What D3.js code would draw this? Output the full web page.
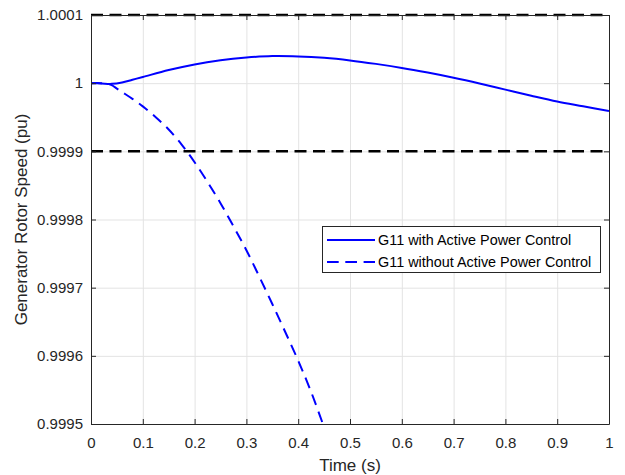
<!DOCTYPE html>
<html>
<head>
<meta charset="utf-8">
<script src="https://cdn.jsdelivr.net/npm/d3@7"></script>
<style>
  html, body { margin: 0; padding: 0; background: #fff; }
  svg { display: block; font-family: "Liberation Sans", Arial, Helvetica, sans-serif; }
</style>
</head>
<body>
<svg id="chart" width="625" height="475"></svg>
<script>
// Time samples (s) and rotor speed (pu) for generator G11
const timeWith = [0, 0.02, 0.04, 0.06, 0.08, 0.1, 0.15, 0.2, 0.25, 0.3, 0.35, 0.4, 0.45, 0.5,
                  0.55, 0.6, 0.65, 0.7, 0.75, 0.8, 0.85, 0.9, 0.95, 1.0];
const speedWith = [1.0000000, 0.9999995, 0.9999990, 1.0000010, 1.0000050, 1.0000090, 1.0000192,
                   1.0000275, 1.0000335, 1.0000375, 1.0000398, 1.0000393, 1.0000372, 1.0000334,
                   1.0000283, 1.0000224, 1.0000155, 1.0000079, 0.9999995, 0.9999905, 0.9999815,
                   0.9999730, 0.9999660, 0.9999590];

const timeWithout = [0, 0.02, 0.03, 0.04, 0.05, 0.06, 0.08, 0.1, 0.125, 0.15, 0.175, 0.2, 0.225,
                     0.25, 0.275, 0.3, 0.325, 0.35, 0.375, 0.4, 0.425, 0.45];
const speedWithout = [1.0000000, 1.0000000, 0.9999995, 0.9999970, 0.9999920, 0.9999870, 0.9999770,
                      0.9999660, 0.9999500, 0.9999320, 0.9999100, 0.9998840, 0.9998550, 0.9998240,
                      0.9997900, 0.9997550, 0.9997160, 0.9996760, 0.9996350, 0.9995930, 0.9995470,
                      0.9994950];

// Speed limit band
const limitLevels = [1.0001, 0.9999];

// Axis ticks and labels
const xTicks = [0, 0.1, 0.2, 0.3, 0.4, 0.5, 0.6, 0.7, 0.8, 0.9, 1];
const xTickLabels = ["0", "0.1", "0.2", "0.3", "0.4", "0.5", "0.6", "0.7", "0.8", "0.9", "1"];
const yTicks = [0.9995, 0.9996, 0.9997, 0.9998, 0.9999, 1.0, 1.0001];
const yTickLabels = ["0.9995", "0.9996", "0.9997", "0.9998", "0.9999", "1", "1.0001"];

const seriesNames = ["G11 with Active Power Control", "G11 without Active Power Control"];

const svg = d3.select("#chart");
const plotLeft = 91, plotRight = 609, plotTop = 15, plotBottom = 424;
const W = plotRight - plotLeft, H = plotBottom - plotTop;

const x = d3.scaleLinear().domain([0, 1]).range([0, W]);
const y = d3.scaleLinear().domain([0.9995, 1.0001]).range([H, 0]);

const axisColor = "#262626";
const g = svg.append("g").attr("transform", `translate(${plotLeft},${plotTop})`);

// Grid
const gridX = g.append("g").attr("transform", `translate(0,${H})`)
  .call(d3.axisBottom(x).tickValues(xTicks).tickSize(-H).tickFormat(""));
const gridY = g.append("g")
  .call(d3.axisLeft(y).tickValues(yTicks).tickSize(-W).tickFormat(""));
[gridX, gridY].forEach(s => {
  s.select(".domain").remove();
  s.selectAll(".tick line").attr("stroke", "#e3e3e3").attr("stroke-width", 1);
});

// Clip to the plotting area
svg.append("defs").append("clipPath").attr("id", "plotClip")
  .append("rect").attr("x", 0).attr("y", -2).attr("width", W).attr("height", H + 2);

const plot = g.append("g").attr("clip-path", "url(#plotClip)");

// Limit lines
plot.selectAll(".limit").data(limitLevels).join("line")
  .attr("class", "limit")
  .attr("x1", 0).attr("x2", W)
  .attr("y1", d => y(d)).attr("y2", d => y(d))
  .attr("stroke", "#000").attr("stroke-width", 2.5)
  .attr("stroke-dasharray", "12,6.5");

const line = d3.line().x(d => x(d[0])).y(d => y(d[1])).curve(d3.curveCatmullRom.alpha(0.5));

plot.append("path")
  .datum(timeWith.map((t, i) => [t, speedWith[i]]))
  .attr("d", line).attr("fill", "none")
  .attr("stroke", "#0000ff").attr("stroke-width", 2);

plot.append("path")
  .datum(timeWithout.map((t, i) => [t, speedWithout[i]]))
  .attr("d", line).attr("fill", "none")
  .attr("stroke", "#0000ff").attr("stroke-width", 2)
  .attr("stroke-dasharray", "11,7");

// Axes (inward ticks on all four sides)
const tickLen = 5;
const xAxis = g.append("g").attr("transform", `translate(0,${H})`)
  .call(d3.axisBottom(x).tickValues(xTicks).tickSizeInner(-tickLen).tickSizeOuter(0)
    .tickPadding(13.3).tickFormat((d, i) => xTickLabels[i]));
const yAxis = g.append("g")
  .call(d3.axisLeft(y).tickValues(yTicks).tickSizeInner(-tickLen).tickSizeOuter(0)
    .tickPadding(8).tickFormat((d, i) => yTickLabels[i]));
const xTop = g.append("g")
  .call(d3.axisTop(x).tickValues(xTicks).tickSizeInner(-tickLen).tickSizeOuter(0).tickFormat(""));
const yRight = g.append("g").attr("transform", `translate(${W},0)`)
  .call(d3.axisRight(y).tickValues(yTicks).tickSizeInner(-tickLen).tickSizeOuter(0).tickFormat(""));

[xAxis, yAxis, xTop, yRight].forEach(s => {
  s.select(".domain").attr("stroke", axisColor).attr("stroke-width", 1);
  s.selectAll(".tick line").attr("stroke", axisColor).attr("stroke-width", 1);
  s.selectAll(".tick text").attr("fill", axisColor)
    .style("font-size", "15px").style("font-family", "'Liberation Sans', Arial, sans-serif");
});

// Axis titles
svg.append("text")
  .attr("x", plotLeft + W / 2).attr("y", 471)
  .attr("text-anchor", "middle").attr("fill", axisColor)
  .style("font-size", "17px").text("Time (s)");

svg.append("text")
  .attr("transform", `translate(27,${plotTop + H / 2}) rotate(-90)`)
  .attr("text-anchor", "middle").attr("fill", axisColor)
  .style("font-size", "17px").text("Generator Rotor Speed (pu)");

// Legend
const legend = svg.append("g");
legend.append("rect")
  .attr("x", 322.5).attr("y", 226.5).attr("width", 278).attr("height", 46)
  .attr("fill", "#fff").attr("stroke", axisColor).attr("stroke-width", 1);
const rows = [{ name: seriesNames[0], dash: null, yy: 240 },
              { name: seriesNames[1], dash: "11.7,6.6", yy: 262 }];
rows.forEach(r => {
  legend.append("line")
    .attr("x1", 327).attr("x2", 375).attr("y1", r.yy).attr("y2", r.yy)
    .attr("stroke", "#0000ff").attr("stroke-width", 2)
    .attr("stroke-dasharray", r.dash);
  legend.append("text")
    .attr("x", 378).attr("y", r.yy).attr("dy", "0.35em")
    .attr("fill", "#000").style("font-size", "14.4px").text(r.name);
});
</script>
</body>
</html>
